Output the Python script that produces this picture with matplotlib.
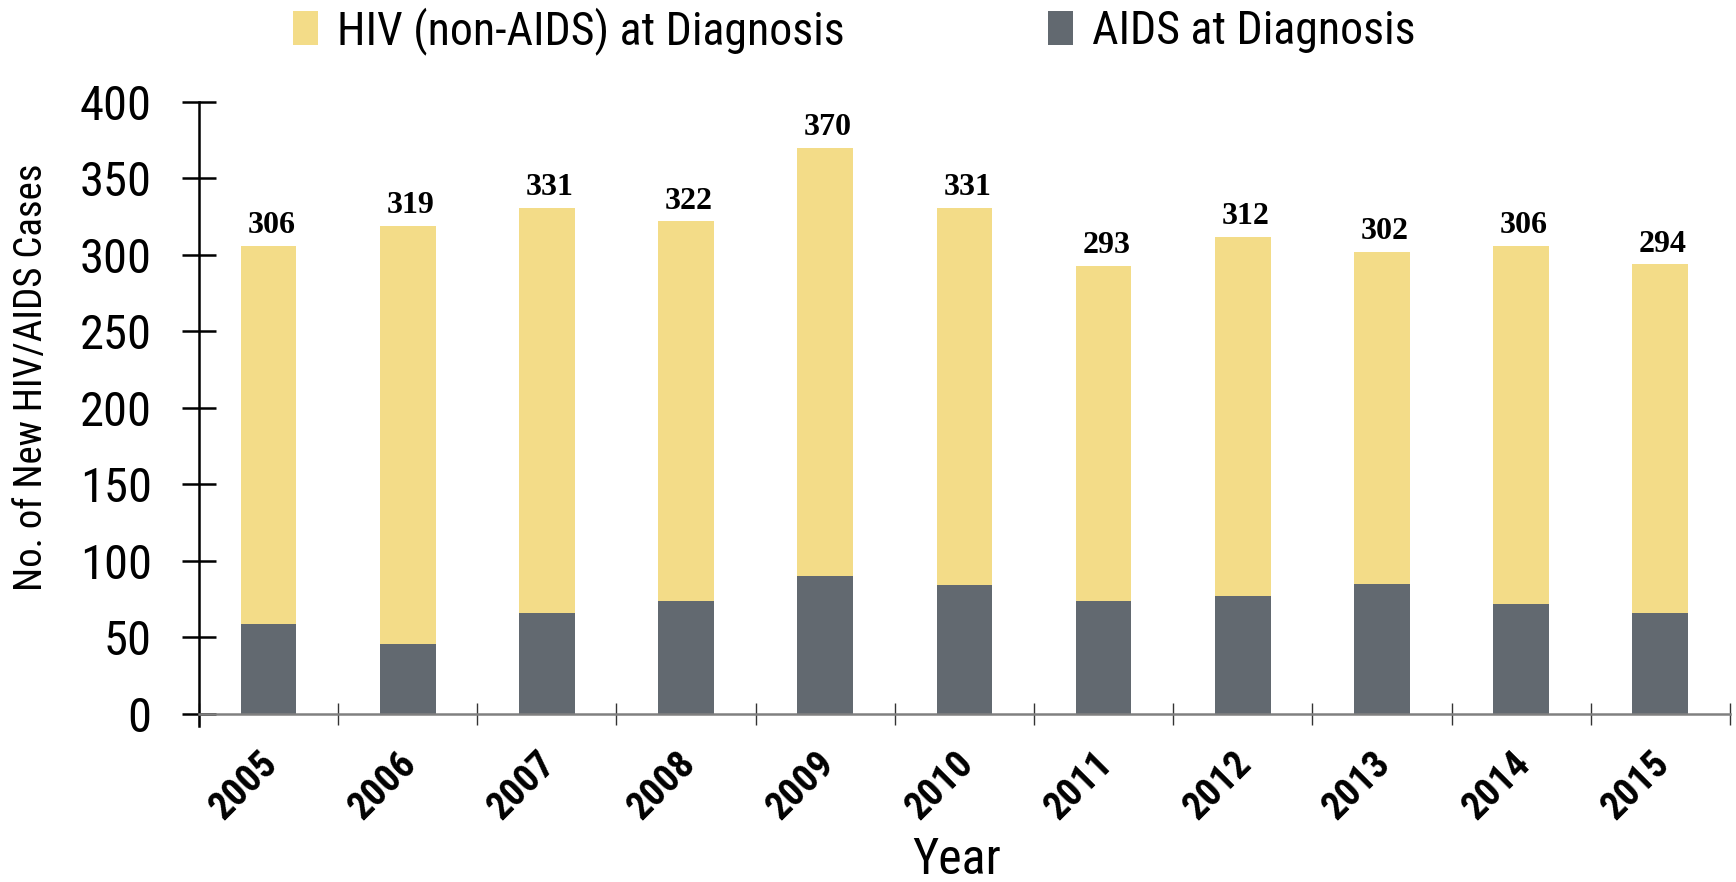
import matplotlib
matplotlib.use("Agg")
import matplotlib.pyplot as plt
from matplotlib import font_manager as fm
from matplotlib.transforms import ScaledTranslation
import numpy as np

years = ["2005", "2006", "2007", "2008", "2009", "2010", "2011", "2012", "2013", "2014", "2015"]
totals = [306, 319, 331, 322, 370, 331, 293, 312, 302, 306, 294]
aids = [59, 46, 66, 74, 90, 84, 74, 77, 85, 72, 66]
hiv_non_aids = [t - a for t, a in zip(totals, aids)]
yticks = [0, 50, 100, 150, 200, 250, 300, 350, 400]

entries = fm.fontManager.ttflist
names = {f.name for f in entries}
cands = ["Roboto Condensed", "PT Sans Narrow", "Archivo Narrow", "Asap Condensed", "Barlow Condensed"]


def pick(bold):
    for c in cands:
        if c not in names:
            continue
        if not bold:
            return c
        for f in entries:
            if f.name == c and ("Bold" in f.fname) and "Italic" not in f.fname and "Extra" not in f.fname \
                    and "Semi" not in f.fname:
                return c
    return "DejaVu Sans"


REG = pick(False)
BOLD = pick(True)
plt.rcParams["font.family"] = [REG, "DejaVu Sans"]

YELLOW = "#F3DC88"
GREY = "#626970"

fig = plt.figure(figsize=(17.36, 8.82), dpi=100)
ax = fig.add_axes([0.1146, 0.1905, 0.8819, 0.6939])

x = np.arange(len(years))
w = 0.4
ax.bar(x, aids, width=w, color=GREY, label="AIDS at Diagnosis", zorder=2)
ax.bar(x, hiv_non_aids, width=w, bottom=aids, color=YELLOW,
       label="HIV (non-AIDS) at Diagnosis", zorder=2)

for xi, t in zip(x, totals):
    ax.annotate(str(t), (xi, t), xytext=(2, 4), textcoords="offset points",
                ha="center", va="bottom", fontsize=23, fontweight="bold",
                family="Liberation Serif")

ax.set_xlim(-0.5, len(years) - 0.5)
ax.set_ylim(0, 400)
ax.set_yticks(yticks)
ax.set_yticklabels([str(v) for v in yticks], fontsize=35)
ax.tick_params(axis="y", direction="inout", length=24, width=1.8, pad=22)

ax.set_xticks(x)
ax.set_xticklabels(years, rotation=45, ha="right", rotation_mode="anchor",
                   fontsize=28, fontweight="bold", family=[BOLD, "DejaVu Sans"])
ax.tick_params(axis="x", length=0, pad=22)
shift = ScaledTranslation(-7 / 72, 0, fig.dpi_scale_trans)
for lab in ax.get_xticklabels():
    lab.set_transform(lab.get_transform() + shift)
ax.set_xticks(np.arange(-0.5, len(years)), minor=True)
ax.tick_params(axis="x", which="minor", direction="inout", length=16, width=1.0, color="#333333")

for s in ["top", "right"]:
    ax.spines[s].set_visible(False)
ax.spines["left"].set_linewidth(1.8)
ax.spines["left"].set_bounds(-8, 400)
ax.spines["bottom"].set_color("#808080")
ax.spines["bottom"].set_linewidth(1.8)

ax.set_ylabel("No. of New HIV/AIDS Cases", fontsize=28)
ax.yaxis.set_label_coords(-0.097, 0.55)
ax.set_xlabel("Year", fontsize=36)
ax.xaxis.set_label_coords(0.495, -0.2)

h, l = ax.get_legend_handles_labels()
fig.legend([h[1], h[0]], [l[1], l[0]], loc="center", bbox_to_anchor=(0.492, 0.965),
           ncol=2, frameon=False, fontsize=33, handlelength=0.55, handleheight=0.75,
           columnspacing=4.45, handletextpad=0.4)

fig.savefig("out.png", dpi=100)
